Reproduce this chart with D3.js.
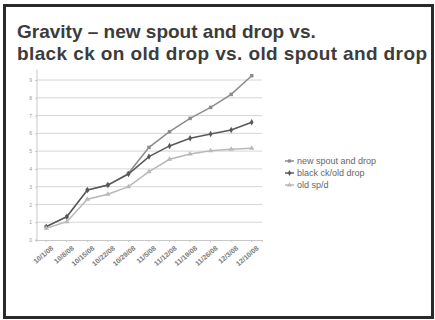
<!DOCTYPE html>
<html>
<head>
<meta charset="utf-8">
<script src="https://cdn.jsdelivr.net/npm/d3@7"></script>
<style>
  html, body { margin: 0; padding: 0; background: #fff; }
  svg { display: block; }
</style>
</head>
<body>
<svg id="chart" width="435" height="320"></svg>
<script>
// Sample dates along the category axis
const categories = ["10/1/08", "10/8/08", "10/15/08", "10/22/08", "10/29/08", "11/5/08",
                    "11/12/08", "11/19/08", "11/26/08", "12/3/08", "12/10/08"];
const yTicks = [0, 1, 2, 3, 4, 5, 6, 7, 8, 9];

const seriesNames = ["new spout and drop", "black ck/old drop", "old sp/d"];
const newSpoutDrop = [0.75, 1.31, 2.81, 3.09, 3.75, 5.21, 6.09, 6.84, 7.46, 8.19, 9.24];
const blackCkOldDrop = [0.75, 1.31, 2.81, 3.09, 3.71, 4.69, 5.29, 5.72, 5.96, 6.19, 6.62];
const oldSpoutDrop = [0.66, 1.03, 2.29, 2.57, 3.00, 3.84, 4.54, 4.84, 5.02, 5.10, 5.16];

const series = [
  { name: seriesNames[0], values: newSpoutDrop, color: "#8c8c8c", marker: "square" },
  { name: seriesNames[1], values: blackCkOldDrop, color: "#585858", marker: "diamond" },
  { name: seriesNames[2], values: oldSpoutDrop, color: "#b8b8b8", marker: "triangle" }
];

const svg = d3.select("#chart");

// Frame around the slide
svg.append("rect")
  .attr("x", 4.5).attr("y", 5.5).attr("width", 428).attr("height", 312)
  .attr("fill", "#fff").attr("stroke", "#2a2a2a").attr("stroke-width", 3);

// Title
const title = svg.append("text")
  .attr("font-family", "Liberation Sans, Arial, sans-serif")
  .attr("font-weight", "bold").attr("font-size", 19).attr("fill", "#3c3c3c");
title.append("tspan").attr("x", 17).attr("y", 38)
  .text("Gravity – new spout and drop vs.");
title.append("tspan").attr("x", 17).attr("y", 60)
  .attr("textLength", 410).attr("lengthAdjust", "spacing")
  .text("black ck on old drop vs. old spout and drop");

const x = d3.scaleBand().domain(categories).range([36, 262]);
const y = d3.scaleLinear().domain([0, 9]).range([240, 80]);
const cx = d => x(d) + x.bandwidth() / 2;

// Horizontal gridlines
svg.append("g").selectAll("line").data(yTicks.slice(1)).join("line")
  .attr("x1", 37).attr("x2", 262)
  .attr("y1", d => y(d)).attr("y2", d => y(d))
  .attr("stroke", "#d6d6d6").attr("stroke-width", 1);

// Y axis
const yAxis = svg.append("g").attr("transform", "translate(37,0)")
  .call(d3.axisLeft(y).tickValues(yTicks).tickSize(2).tickPadding(3).tickFormat(d3.format("d")));
yAxis.select(".domain").attr("stroke", "#c8c8c8").attr("d", `M-2,${y(0)}H0V${y(9.6)}`);
yAxis.selectAll(".tick line").attr("stroke", "#c8c8c8");
yAxis.selectAll("text").attr("font-size", 5).attr("fill", "#999")
  .attr("font-family", "Liberation Sans, Arial, sans-serif");

// X axis
const xAxis = svg.append("g").attr("transform", `translate(0,${y(0)})`)
  .call(d3.axisBottom(x).tickSize(2).tickPadding(2));
xAxis.select(".domain").attr("stroke", "#c8c8c8");
xAxis.selectAll(".tick line").attr("stroke", "#c8c8c8");
xAxis.selectAll("text")
  .attr("font-size", 7).attr("font-weight", "bold").attr("fill", "#7a7a7a")
  .attr("font-family", "Liberation Sans, Arial, sans-serif")
  .attr("text-anchor", "end")
  .attr("transform", "translate(6,7) rotate(-40)")
  .attr("dy", "0.35em").attr("y", 0).attr("x", 0);

// Series lines and markers
const line = d3.line().x((d, i) => cx(categories[i])).y(d => y(d));
const symbolType = { square: d3.symbolSquare, diamond: d3.symbolDiamond, triangle: d3.symbolTriangle };

series.forEach(s => {
  svg.append("path").datum(s.values)
    .attr("d", line).attr("fill", "none")
    .attr("stroke", s.color).attr("stroke-width", 1.5);
  svg.append("g").selectAll("path").data(s.values).join("path")
    .attr("transform", (d, i) => `translate(${cx(categories[i])},${y(d)})`)
    .attr("d", d3.symbol().type(symbolType[s.marker]).size(12))
    .attr("fill", s.color);
});

// Legend
const legend = svg.append("g").attr("transform", "translate(285,161)");
series.forEach((s, i) => {
  const g = legend.append("g").attr("transform", `translate(0,${i * 12})`);
  g.append("line").attr("x1", 0).attr("x2", 9).attr("stroke", s.color).attr("stroke-width", 1.5);
  g.append("path").attr("transform", "translate(4.5,0)")
    .attr("d", d3.symbol().type(symbolType[s.marker]).size(10)).attr("fill", s.color);
  g.append("text").attr("x", 12).attr("dy", "0.35em")
    .attr("font-size", 9).attr("fill", "#666")
    .attr("font-family", "Liberation Sans, Arial, sans-serif")
    .text(s.name);
});
</script>
</body>
</html>
